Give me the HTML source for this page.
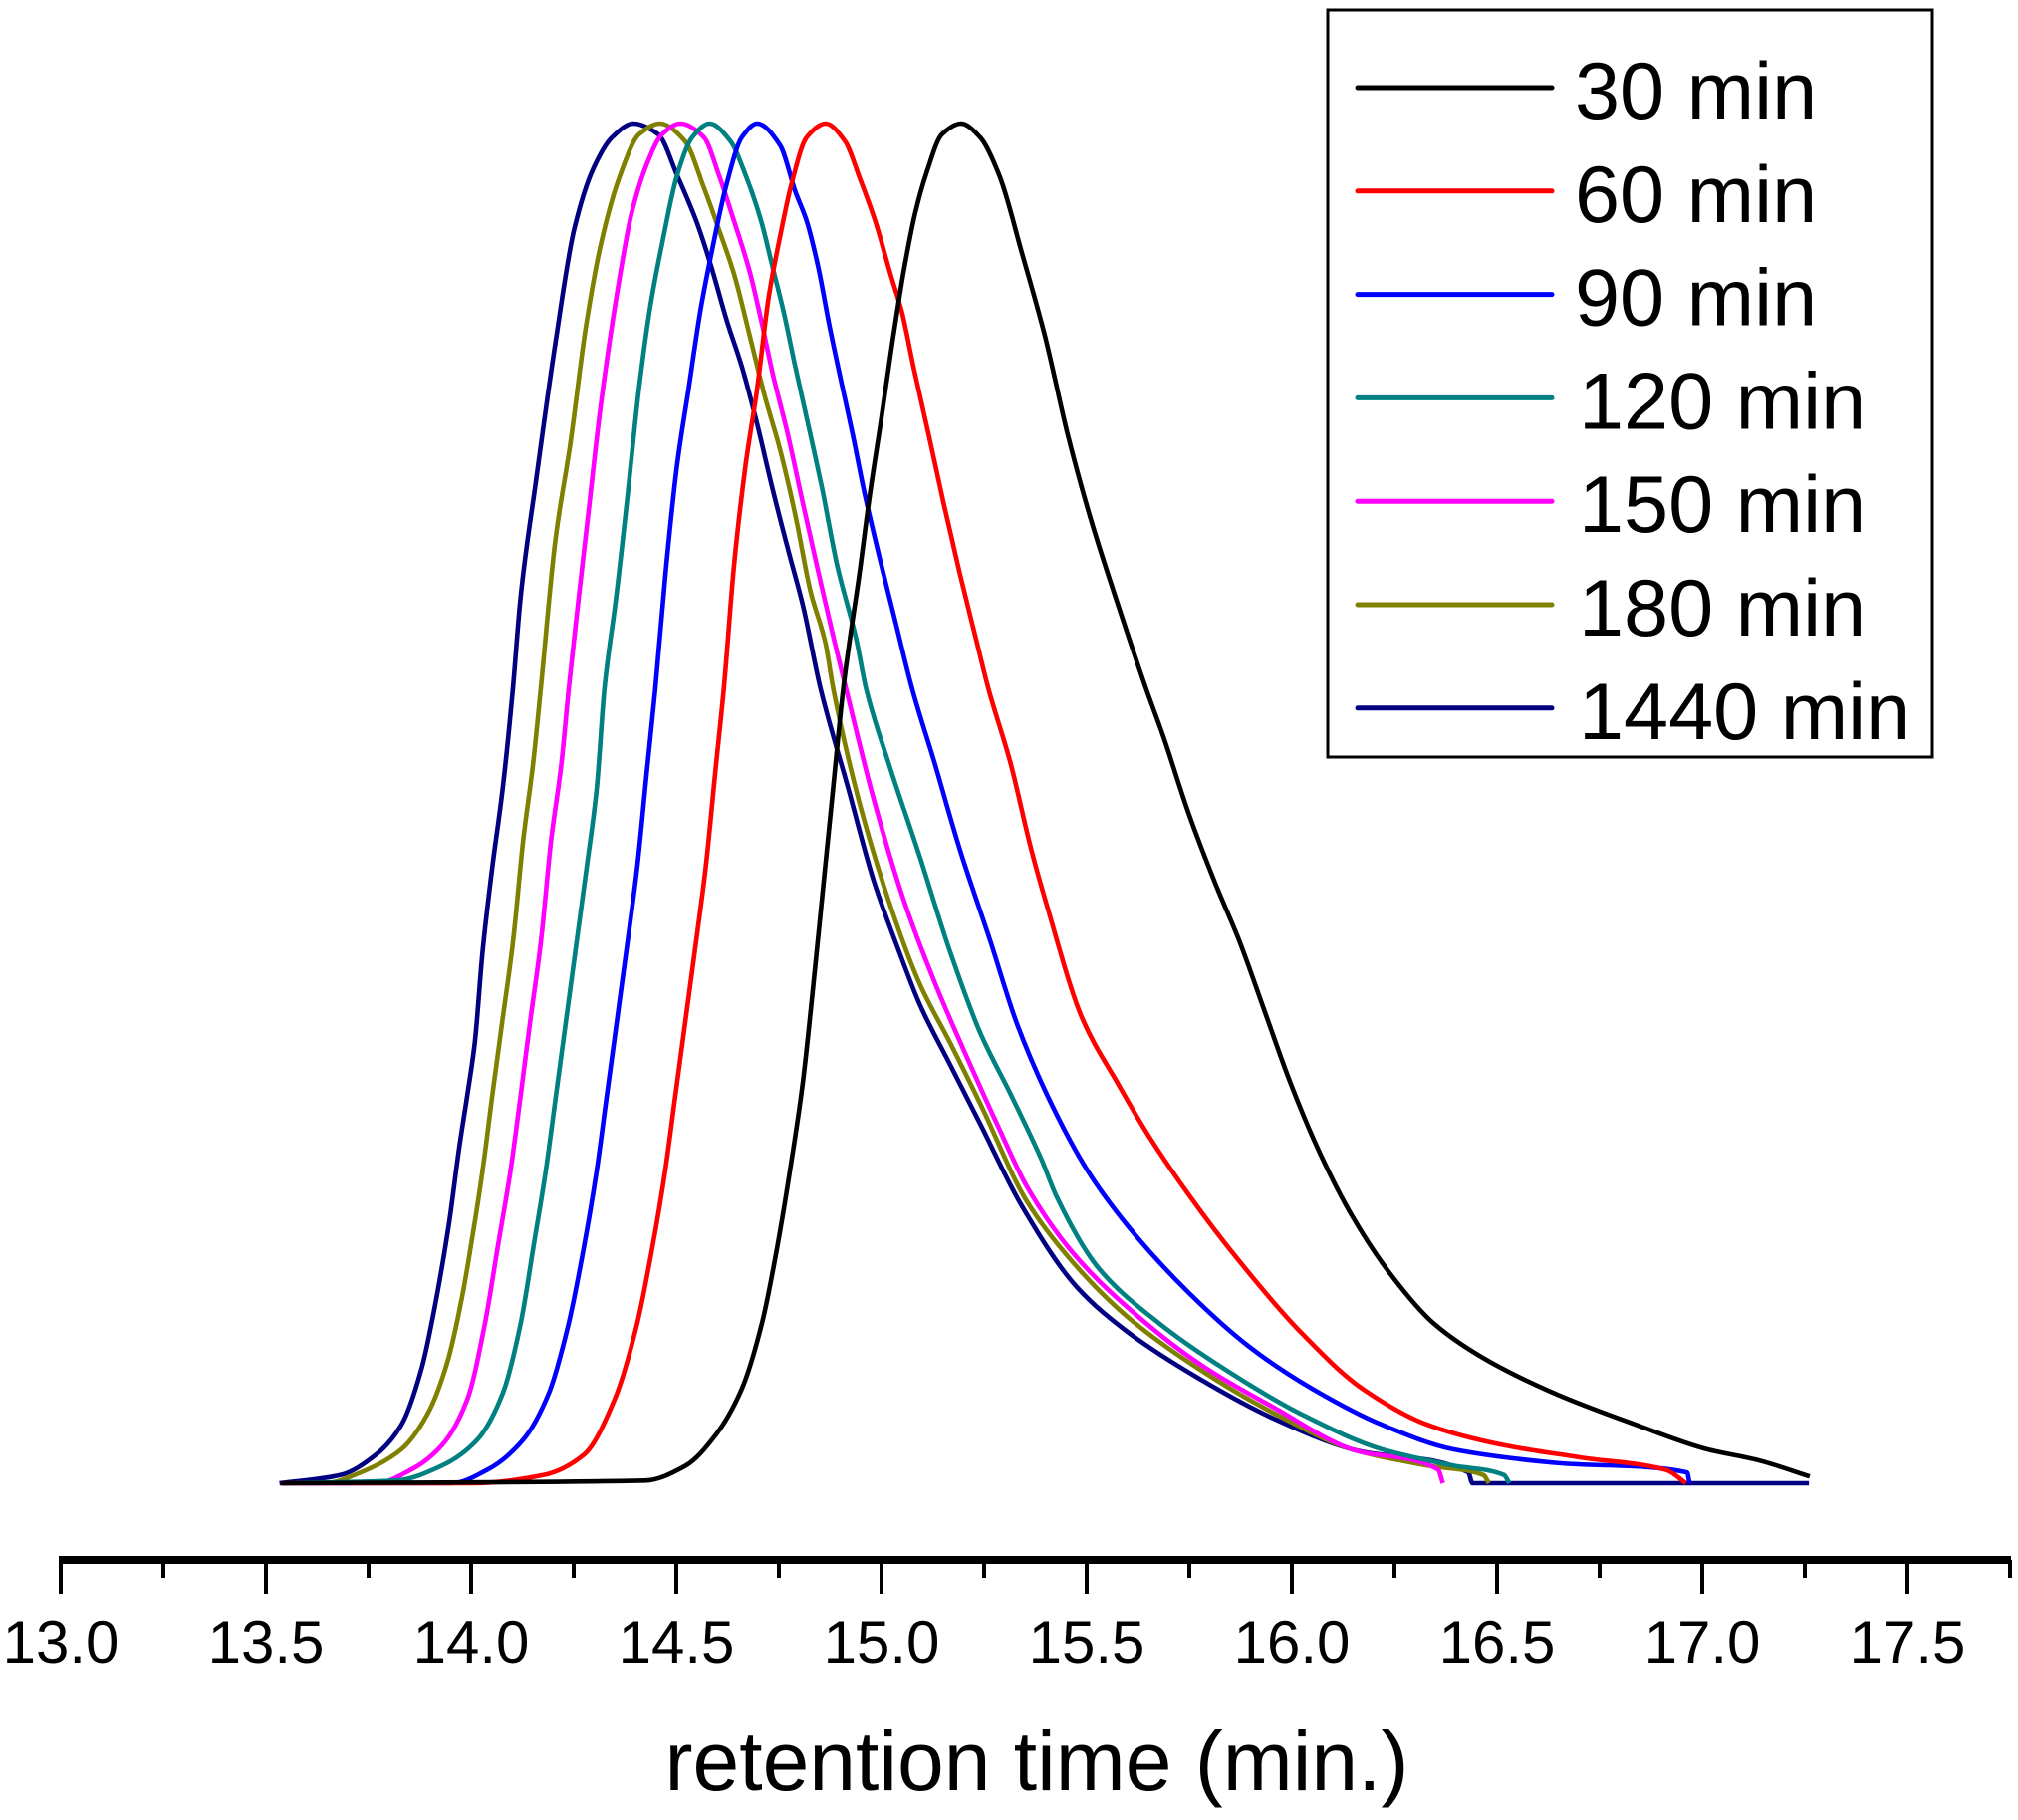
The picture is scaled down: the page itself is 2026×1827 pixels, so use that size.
<!DOCTYPE html>
<html><head><meta charset="utf-8"><style>
html,body{margin:0;padding:0;background:#fff}
svg{display:block}
text{font-family:"Liberation Sans",Arial,sans-serif;fill:#000}
</style></head><body>
<svg id="chart" width="2026" height="1827" viewBox="0 0 2026 1827" xmlns="http://www.w3.org/2000/svg">
<g id="curves"></g>
<g id="xaxis"></g>
<text x="1041" y="1797" font-size="84" text-anchor="middle">retention time (min.)</text>
<g id="legend"></g>
</svg>
<script>
// ---- data ----
const xTicks = [13.0,13.5,14.0,14.5,15.0,15.5,16.0,16.5,17.0,17.5];
const xTickLabels = ["13.0","13.5","14.0","14.5","15.0","15.5","16.0","16.5","17.0","17.5"];
const seriesNames = ["30 min","60 min","90 min","120 min","150 min","180 min","1440 min"];
const seriesColors = ["#000000","#ff0000","#0000ff","#008080","#ff00ff","#808000","#000080"];

const t30x = [13.537,14.424,14.523,14.597,14.659,14.709,14.746,14.777,14.808,14.832,14.857,14.882,14.907,14.948,14.971,14.999,15.026,15.054,15.082,15.11,15.147,15.194,15.24,15.287,15.342,15.398,15.454,15.51,15.584,15.644,15.688,15.749,15.811,15.873,15.935,15.997,16.071,16.146,16.245,16.344,16.467,16.641,16.839,17.012,17.136,17.262];
const t30y = [0,0.002,0.013,0.036,0.069,0.118,0.174,0.23,0.294,0.361,0.436,0.511,0.585,0.673,0.726,0.782,0.838,0.891,0.934,0.964,0.992,1,0.99,0.962,0.905,0.844,0.771,0.709,0.639,0.585,0.548,0.492,0.443,0.398,0.346,0.294,0.241,0.197,0.152,0.118,0.092,0.066,0.043,0.025,0.017,0.005];

const t60x = [13.537,14.003,14.176,14.275,14.35,14.405,14.442,14.473,14.498,14.523,14.548,14.572,14.597,14.616,14.641,14.669,14.697,14.725,14.753,14.781,14.818,14.864,14.911,14.948,14.985,15.022,15.05,15.078,15.115,15.152,15.19,15.227,15.26,15.315,15.365,15.403,15.489,15.576,15.65,15.749,15.873,16.022,16.17,16.331,16.517,16.703,16.913,16.96];
const t60y = [0,0,0.006,0.021,0.062,0.118,0.174,0.23,0.286,0.342,0.398,0.454,0.529,0.585,0.676,0.749,0.805,0.872,0.917,0.956,0.99,1,0.987,0.959,0.928,0.889,0.861,0.821,0.771,0.72,0.67,0.625,0.585,0.529,0.466,0.425,0.342,0.294,0.256,0.212,0.163,0.111,0.07,0.043,0.028,0.019,0.0097,0];

const t90x = [13.537,13.953,14.04,14.127,14.189,14.238,14.275,14.306,14.331,14.356,14.381,14.405,14.43,14.449,14.474,14.502,14.53,14.558,14.586,14.623,14.66,14.697,14.753,14.79,14.818,14.846,14.874,14.902,14.93,14.958,14.995,15.032,15.074,15.13,15.191,15.266,15.329,15.403,15.502,15.601,15.749,15.898,16.047,16.22,16.393,16.641,16.963,16.969];
const t90y = [0,0,0.01,0.032,0.066,0.118,0.174,0.23,0.286,0.342,0.398,0.454,0.529,0.585,0.67,0.749,0.805,0.861,0.905,0.956,0.99,1,0.984,0.95,0.928,0.894,0.85,0.81,0.771,0.729,0.681,0.636,0.585,0.529,0.466,0.398,0.339,0.286,0.23,0.189,0.14,0.1,0.07,0.043,0.025,0.015,0.008,0];

const t120x = [13.537,13.817,13.929,14.015,14.077,14.121,14.152,14.182,14.207,14.232,14.257,14.282,14.306,14.325,14.354,14.381,14.409,14.437,14.465,14.502,14.539,14.581,14.632,14.669,14.707,14.735,14.762,14.79,14.827,14.855,14.892,14.939,14.962,15.018,15.092,15.167,15.241,15.315,15.39,15.428,15.527,15.675,15.836,16.022,16.22,16.393,16.517,16.53];
const t120y = [0,0.002,0.013,0.032,0.066,0.118,0.174,0.23,0.286,0.342,0.398,0.454,0.511,0.585,0.653,0.726,0.805,0.866,0.911,0.962,0.99,1,0.987,0.962,0.928,0.894,0.861,0.821,0.771,0.732,0.675,0.62,0.585,0.529,0.462,0.391,0.331,0.286,0.238,0.21,0.159,0.118,0.084,0.051,0.025,0.013,0.006,0];

const t150x = [13.537,13.768,13.854,13.929,13.991,14.034,14.065,14.096,14.121,14.145,14.17,14.195,14.22,14.238,14.261,14.288,14.316,14.354,14.391,14.428,14.465,14.51,14.567,14.604,14.641,14.679,14.707,14.735,14.772,14.809,14.846,14.883,14.913,14.981,15.055,15.13,15.216,15.285,15.353,15.465,15.601,15.774,15.96,16.146,16.356,16.368];
const t150y = [0,0,0.01,0.028,0.062,0.118,0.174,0.23,0.286,0.342,0.398,0.473,0.529,0.585,0.648,0.72,0.793,0.872,0.934,0.97,0.992,1,0.99,0.962,0.928,0.891,0.855,0.816,0.771,0.72,0.67,0.622,0.585,0.503,0.428,0.368,0.308,0.262,0.219,0.17,0.129,0.088,0.055,0.025,0.01,0];

const t180x = [13.537,13.644,13.731,13.83,13.892,13.941,13.978,14.003,14.028,14.052,14.077,14.102,14.127,14.151,14.17,14.205,14.242,14.279,14.316,14.363,14.409,14.46,14.521,14.567,14.604,14.641,14.679,14.716,14.753,14.79,14.827,14.864,14.882,14.944,15.018,15.092,15.167,15.241,15.353,15.465,15.601,15.774,15.96,16.146,16.331,16.467,16.48];
const t180y = [0,0,0.008,0.025,0.05,0.088,0.137,0.181,0.23,0.286,0.342,0.398,0.473,0.529,0.585,0.693,0.765,0.849,0.911,0.962,0.992,1,0.987,0.953,0.922,0.889,0.844,0.799,0.76,0.712,0.656,0.617,0.585,0.503,0.428,0.368,0.324,0.279,0.208,0.163,0.122,0.084,0.051,0.025,0.013,0.006,0];

const t1440x = [13.533,13.681,13.768,13.83,13.879,13.916,13.947,13.972,13.991,14.009,14.028,14.052,14.077,14.102,14.121,14.158,14.205,14.251,14.298,14.344,14.395,14.456,14.502,14.549,14.586,14.623,14.66,14.697,14.734,14.772,14.809,14.851,14.919,14.981,15.043,15.092,15.167,15.241,15.34,15.477,15.601,15.774,15.96,16.146,16.43,16.44,17.26];
const t1440y = [0,0.006,0.021,0.043,0.084,0.137,0.193,0.249,0.286,0.324,0.391,0.454,0.511,0.585,0.653,0.737,0.838,0.922,0.967,0.99,1,0.992,0.962,0.928,0.894,0.855,0.821,0.779,0.732,0.687,0.645,0.585,0.511,0.443,0.391,0.353,0.308,0.264,0.205,0.144,0.111,0.077,0.047,0.025,0.008,0,0];

const seriesX = [t30x,t60x,t90x,t120x,t150x,t180x,t1440x];
const seriesY = [t30y,t60y,t90y,t120y,t150y,t180y,t1440y];

// ---- scales ----
const X0 = 61, XS = 412;
const Y0 = 1489, YTOP = 124;
function xPx(v){ return X0 + (v - 13) * XS; }
function yPx(n){ return Y0 - n * (Y0 - YTOP); }

const NS = "http://www.w3.org/2000/svg";
function mk(tag, attrs, parent){
  const e = document.createElementNS(NS, tag);
  for (const k in attrs) e.setAttribute(k, attrs[k]);
  parent.appendChild(e);
  return e;
}
// monotone cubic (Fritsch-Carlson) in screen space
function smoothPath(xs, ys){
  const px = xs.map(xPx), py = ys.map(yPx);
  const n = px.length;
  const d = [], m = new Array(n);
  for (let i = 0; i < n - 1; i++) d.push((py[i+1]-py[i]) / Math.max(px[i+1]-px[i], 1e-6));
  m[0] = d[0]; m[n-1] = d[n-2];
  for (let i = 1; i < n - 1; i++){
    if (d[i-1] * d[i] <= 0) m[i] = 0;
    else {
      const h0 = px[i]-px[i-1], h1 = px[i+1]-px[i];
      const w1 = 2*h1 + h0, w2 = h1 + 2*h0;
      m[i] = (w1 + w2) / (w1/d[i-1] + w2/d[i]);
    }
  }
  let s = "M" + px[0].toFixed(1) + "," + py[0].toFixed(1);
  for (let i = 0; i < n - 1; i++){
    const h = (px[i+1]-px[i]) / 3;
    s += " C" + (px[i]+h).toFixed(1) + "," + (py[i]+m[i]*h).toFixed(1) + " " +
         (px[i+1]-h).toFixed(1) + "," + (py[i+1]-m[i+1]*h).toFixed(1) + " " +
         px[i+1].toFixed(1) + "," + py[i+1].toFixed(1);
  }
  return s;
}

const curves = document.getElementById("curves");
for (let s = seriesX.length - 1; s >= 0; s--){
  const path = mk("path", {d: smoothPath(seriesX[s], seriesY[s]), fill:"none", stroke: seriesColors[s], "stroke-width":"4.6", "stroke-linejoin":"round"}, curves);
  
  
}

// ---- x axis ----
const ax = document.getElementById("xaxis");
const axLine = mk("rect", {x: 59, y: 1562, width: 1960, height: 8, fill: "#000"}, ax);


for (let i = 0; i < xTicks.length; i++){
  const x = xPx(xTicks[i]);
  const t = mk("rect", {x: x-2, y: 1566, width: 4, height: 34, fill: "#000"}, ax);
  
  
  const mx = xPx(xTicks[i] + 0.25);
  const m = mk("rect", {x: mx-2, y: 1566, width: 4, height: 18, fill: "#000"}, ax);
  
  
  const lb = mk("text", {x: x, y: 1669, "font-size": 60, "text-anchor": "middle"}, ax);
  lb.textContent = xTickLabels[i];
  
  
}

// ---- legend ----
const lg = document.getElementById("legend");
const box = mk("rect", {x: 1333, y: 10, width: 607, height: 750, fill: "#fff", stroke: "#000", "stroke-width": 3}, lg);


for (let s = 0; s < seriesNames.length; s++){
  const yy = 88 + s * 103.8;
  const ln = mk("line", {x1: 1363, x2: 1558, y1: yy, y2: yy, stroke: seriesColors[s], "stroke-width": 5, "stroke-linecap": "round"}, lg);
  
  
  const tx = mk("text", {x: seriesNames[s].length > 6 ? 1585 : 1581, y: yy + 31, "font-size": 81}, lg);
  tx.textContent = seriesNames[s];
  
  
}
</script>
</body></html>
